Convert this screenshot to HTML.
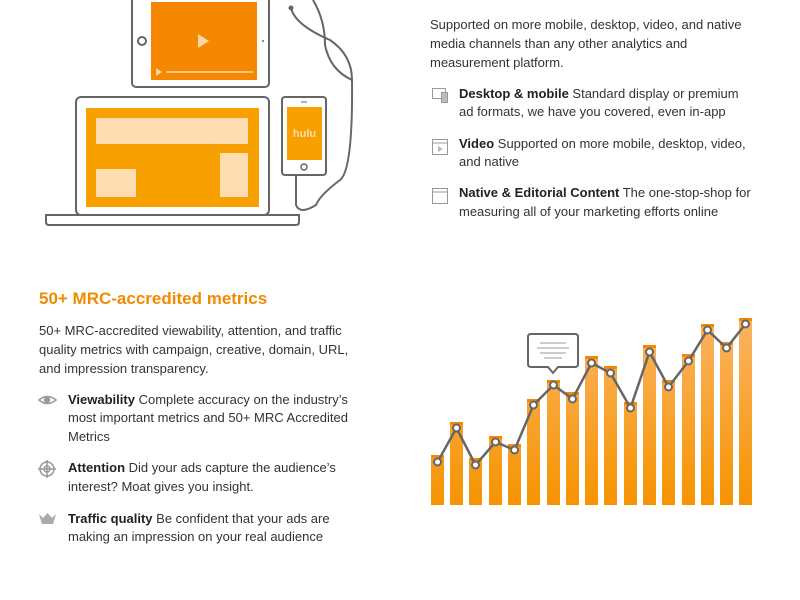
<!DOCTYPE html>
<html><head><meta charset="utf-8"><style>
body{margin:0;width:800px;height:600px;background:#fff;position:relative;overflow:hidden;font-family:"Liberation Sans",sans-serif;color:#333;}
.l{position:absolute;font-size:13px;line-height:18px;white-space:nowrap;}
b{color:#222;}
h2{position:absolute;margin:0;left:39px;top:289px;font-size:17px;color:#f28a00;font-weight:bold;white-space:nowrap;}
</style></head><body>
<svg width="800" height="600" style="position:absolute;left:0;top:0">
<defs>
<linearGradient id="bg" gradientUnits="userSpaceOnUse" x1="0" y1="318" x2="0" y2="505"><stop offset="0" stop-color="#fbb464"/><stop offset="1" stop-color="#f69400"/></linearGradient>
</defs>
<!-- tablet -->
<rect x="132" y="-10" width="137" height="97" rx="4" fill="#fff" stroke="#666" stroke-width="2"/>
<rect x="151" y="2" width="106" height="78" fill="#f58800"/>
<polygon points="198,34 198,48 209,41" fill="#fbd7a8"/>
<polygon points="156,68 156,76 162,72" fill="#fbd7a8"/>
<line x1="166" y1="72" x2="253" y2="72" stroke="#fbd7a8" stroke-width="1.5"/>
<circle cx="142" cy="41" r="4" fill="none" stroke="#666" stroke-width="2"/>
<circle cx="263" cy="41" r="1" fill="#666"/>
<!-- laptop -->
<rect x="76" y="97" width="193" height="118" rx="5" fill="#fff" stroke="#666" stroke-width="2"/>
<rect x="86" y="108" width="173" height="99" fill="#f7a000"/>
<rect x="96" y="118" width="152" height="26" fill="#fcdcb0"/>
<rect x="96" y="169" width="40" height="28" fill="#fcdcb0"/>
<rect x="220" y="153" width="28" height="44" fill="#fcdcb0"/>
<path d="M46,215 H299 V222 Q299,225 296,225 H49 Q46,225 46,222 Z" fill="#fff" stroke="#666" stroke-width="2"/>
<!-- phone -->
<rect x="282" y="97" width="44" height="78" rx="3" fill="#fff" stroke="#666" stroke-width="2"/>
<rect x="287" y="107" width="35" height="53" fill="#f7a000"/>
<text x="304.5" y="137" font-family="Liberation Sans" font-weight="bold" font-size="11" fill="#fcdcb0" text-anchor="middle">hulu</text>
<circle cx="304" cy="167" r="3" fill="none" stroke="#666" stroke-width="1.5"/>
<line x1="301" y1="102" x2="307" y2="102" stroke="#666" stroke-width="1"/>
<!-- cable -->
<path d="M291,8 Q295,25 330,40 Q352,55 352,80 Q353,170 340,180 Q320,195 316,205 Q300,215 296,205 L296,175" fill="none" stroke="#666" stroke-width="2"/>
<path d="M313,0 Q325,20 325,45 Q330,70 352,80" fill="none" stroke="#666" stroke-width="2"/>
<circle cx="291" cy="8" r="2.5" fill="#666"/>
<!-- icons right -->
<g fill="none" stroke="#999" stroke-width="1">
<rect x="432.5" y="88.5" width="13" height="10"/><rect x="441.5" y="92.5" width="6" height="10" fill="#bbb"/>
<rect x="432.5" y="139.5" width="15" height="15"/><line x1="433" y1="143" x2="447" y2="143"/><polygon points="438,146 438,152 443,149" fill="#bbb" stroke="none"/>
<rect x="432.5" y="188.5" width="15" height="15"/><line x1="433" y1="192" x2="447" y2="192"/>
</g>
<!-- icons left -->
<g stroke="#999" fill="none" stroke-width="1.5">
<path d="M39,400 Q47,393 56,400 Q47,407 39,400Z"/><circle cx="47" cy="400" r="2.5" fill="#999"/>
<circle cx="47" cy="469" r="7"/><circle cx="47" cy="469" r="3"/><line x1="38" y1="469" x2="56" y2="469"/><line x1="47" y1="460" x2="47" y2="478"/>
</g>
<path d="M39,514 L42,524 H53 L56,514 L52,518 L47.5,513 L43,518 Z" fill="#aaa"/>
<!-- chart -->
<g fill="url(#bg)">
<rect x="431" y="455" width="13" height="50"/>
<rect x="450" y="422" width="13" height="83"/>
<rect x="469" y="458" width="13" height="47"/>
<rect x="489" y="436" width="13" height="69"/>
<rect x="508" y="444" width="13" height="61"/>
<rect x="527" y="399" width="13" height="106"/>
<rect x="547" y="380" width="13" height="125"/>
<rect x="566" y="392" width="13" height="113"/>
<rect x="585" y="356" width="13" height="149"/>
<rect x="604" y="366" width="13" height="139"/>
<rect x="624" y="402" width="13" height="103"/>
<rect x="643" y="345" width="13" height="160"/>
<rect x="662" y="380" width="13" height="125"/>
<rect x="682" y="354" width="13" height="151"/>
<rect x="701" y="324" width="13" height="181"/>
<rect x="720" y="342" width="13" height="163"/>
<rect x="739" y="318" width="13" height="187"/>
</g>
<g fill="#f58800">
<rect x="431" y="455" width="13" height="3"/><rect x="450" y="422" width="13" height="3"/><rect x="469" y="458" width="13" height="3"/><rect x="489" y="436" width="13" height="3"/><rect x="508" y="444" width="13" height="3"/><rect x="527" y="399" width="13" height="3"/><rect x="547" y="380" width="13" height="3"/><rect x="566" y="392" width="13" height="3"/><rect x="585" y="356" width="13" height="3"/><rect x="604" y="366" width="13" height="3"/><rect x="624" y="402" width="13" height="3"/><rect x="643" y="345" width="13" height="3"/><rect x="662" y="380" width="13" height="3"/><rect x="682" y="354" width="13" height="3"/><rect x="701" y="324" width="13" height="3"/><rect x="720" y="342" width="13" height="3"/><rect x="739" y="318" width="13" height="3"/>
</g>
<polyline points="437.5,462 456.5,428 475.5,465 495.5,442 514.5,450 533.5,405 553.5,385 572.5,399 591.5,363 610.5,373 630.5,408 649.5,352 668.5,387 688.5,361 707.5,330 726.5,348 745.5,324" fill="none" stroke="#666" stroke-width="2.5"/>
<g fill="#fff" stroke="#666" stroke-width="2">
<circle cx="437.5" cy="462" r="3.5"/><circle cx="456.5" cy="428" r="3.5"/><circle cx="475.5" cy="465" r="3.5"/><circle cx="495.5" cy="442" r="3.5"/><circle cx="514.5" cy="450" r="3.5"/><circle cx="533.5" cy="405" r="3.5"/><circle cx="553.5" cy="385" r="3.5"/><circle cx="572.5" cy="399" r="3.5"/><circle cx="591.5" cy="363" r="3.5"/><circle cx="610.5" cy="373" r="3.5"/><circle cx="630.5" cy="408" r="3.5"/><circle cx="649.5" cy="352" r="3.5"/><circle cx="668.5" cy="387" r="3.5"/><circle cx="688.5" cy="361" r="3.5"/><circle cx="707.5" cy="330" r="3.5"/><circle cx="726.5" cy="348" r="3.5"/><circle cx="745.5" cy="324" r="3.5"/>
</g>
<path d="M531,334 H575 Q578,334 578,337 V364 Q578,367 575,367 H558 L553,373 L548,367 H531 Q528,367 528,364 V337 Q528,334 531,334Z" fill="#fff" stroke="#666" stroke-width="2"/>
<g stroke="#bbb" stroke-width="1.5"><line x1="540" y1="343" x2="566" y2="343"/><line x1="537" y1="348" x2="569" y2="348"/><line x1="540" y1="353" x2="566" y2="353"/><line x1="544" y1="358" x2="562" y2="358"/></g>
</svg>

<div class="l" style="left:430px;top:16px">Supported on more mobile, desktop, video, and native</div>
<div class="l" style="left:430px;top:35px">media channels than any other analytics and</div>
<div class="l" style="left:430px;top:54px">measurement platform.</div>
<div class="l" style="left:459px;top:85px"><b>Desktop &amp; mobile</b> Standard display or premium</div>
<div class="l" style="left:459px;top:103px">ad formats, we have you covered, even in-app</div>
<div class="l" style="left:459px;top:135px"><b>Video</b> Supported on more mobile, desktop, video,</div>
<div class="l" style="left:459px;top:153px">and native</div>
<div class="l" style="left:459px;top:184px"><b>Native &amp; Editorial Content</b> The one-stop-shop for</div>
<div class="l" style="left:459px;top:203px">measuring all of your marketing efforts online</div>

<h2>50+ MRC-accredited metrics</h2>
<div class="l" style="left:39px;top:322px">50+ MRC-accredited viewability, attention, and traffic</div>
<div class="l" style="left:39px;top:341px">quality metrics with campaign, creative, domain, URL,</div>
<div class="l" style="left:39px;top:360px">and impression transparency.</div>
<div class="l" style="left:68px;top:391px"><b>Viewability</b> Complete accuracy on the industry’s</div>
<div class="l" style="left:68px;top:409px">most important metrics and 50+ MRC Accredited</div>
<div class="l" style="left:68px;top:428px">Metrics</div>
<div class="l" style="left:68px;top:459px"><b>Attention</b> Did your ads capture the audience’s</div>
<div class="l" style="left:68px;top:478px">interest? Moat gives you insight.</div>
<div class="l" style="left:68px;top:510px"><b>Traffic quality</b> Be confident that your ads are</div>
<div class="l" style="left:68px;top:528px">making an impression on your real audience</div>
</body></html>
